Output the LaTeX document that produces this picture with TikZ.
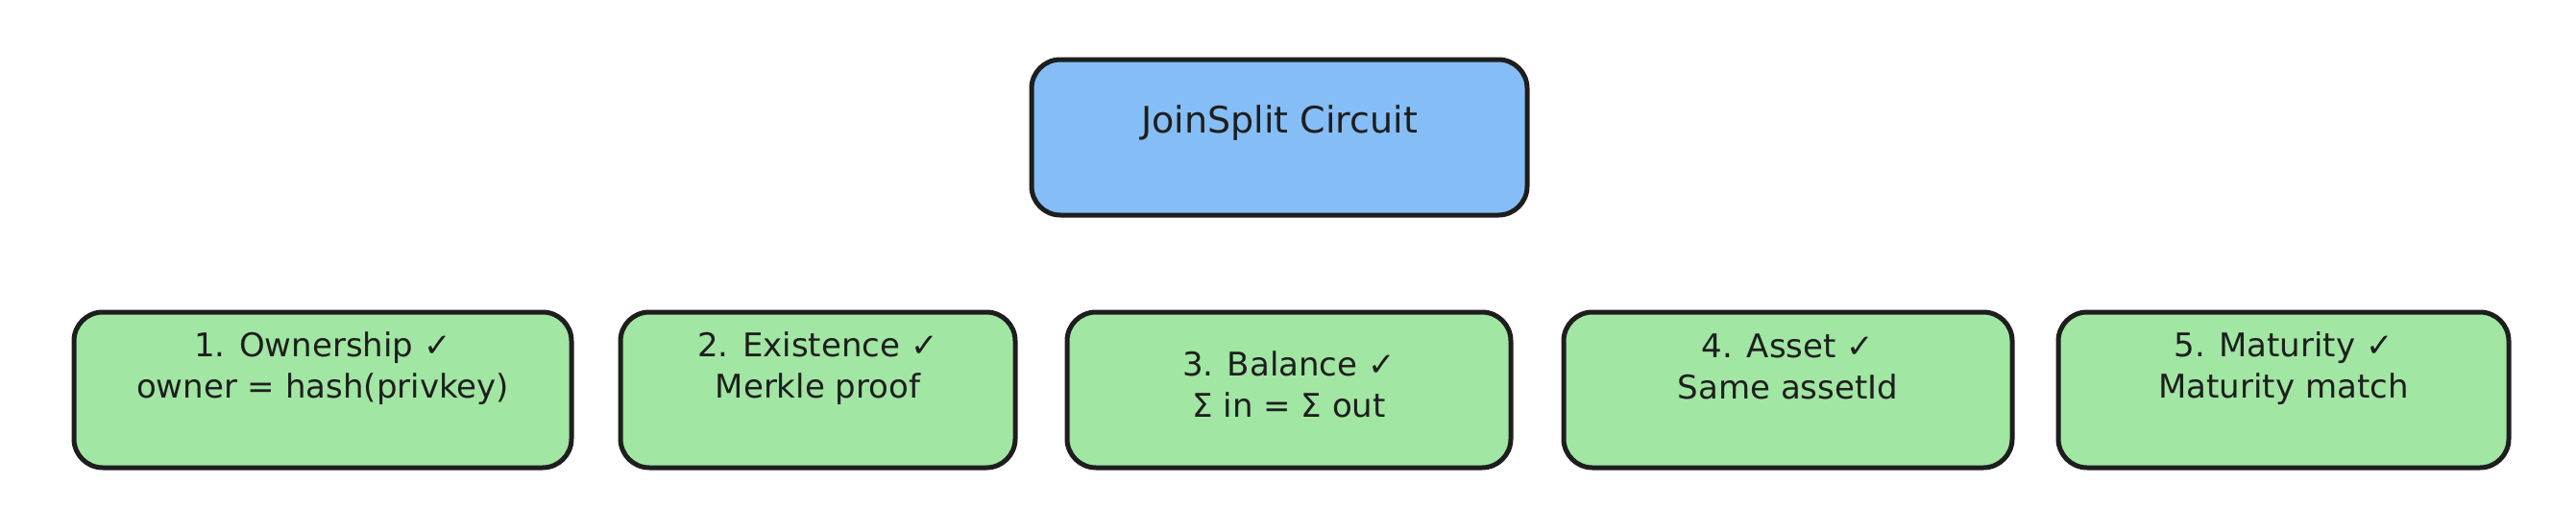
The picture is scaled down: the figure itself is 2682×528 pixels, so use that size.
\documentclass[tikz,border=0pt]{standalone}
\usepackage{fontspec}
\setmainfont{DejaVu Sans}
\usepackage{tikz}
\usetikzlibrary{positioning}
\definecolor{mInk}{HTML}{1E1E1E}
\definecolor{mSkyBlue}{HTML}{85BDF6}
\definecolor{mMint}{HTML}{A1E6A3}

\begin{document}
\begin{tikzpicture}[x=1pt, y=-1pt,
    box/.style={rectangle, draw=mInk, line width=5pt, fill=mMint, rounded corners=30pt, minimum height=162pt, inner sep=0pt},
    topbox/.style={box, fill=mSkyBlue},
    txt/.style={align=center, text=mInk, font=\fontsize{34}{43}\selectfont}
]
    \useasboundingbox (0,0) rectangle (2682,528);

    % circuit
    \node[topbox, minimum width=516pt] (circuit) at (1332,143) {};
    \node[txt, font=\fontsize{38}{46}\selectfont] (circuitTxt) at (1332,128) {JoinSplit Circuit};

    % the five checks
    \node[box, minimum width=518pt] (own) at (336,406) {};
    \node[box, minimum width=411pt] (exist) at (851.5,406) {};
    \node[box, minimum width=462pt] (bal) at (1342,406) {};
    \node[box, minimum width=467pt] (asset) at (1861.5,406) {};
    \node[box, minimum width=469pt] (mat) at (2377.5,406) {};

    \node[txt] (ownTxt) at (336,384) {1. Ownership ✓\\owner = hash(privkey)};
    \node[txt] (existTxt) at (851.5,384) {2. Existence ✓\\Merkle proof};
    \node[txt] (balTxt) at (1342,400) {3. Balance ✓\\Σ in = Σ out};
    \node[txt] (assetTxt) at (1861.5,382) {4. Asset ✓\\Same assetId};
    \node[txt] (matTxt) at (2377.5,384) {5. Maturity ✓\\Maturity match};
\end{tikzpicture}
\end{document}
